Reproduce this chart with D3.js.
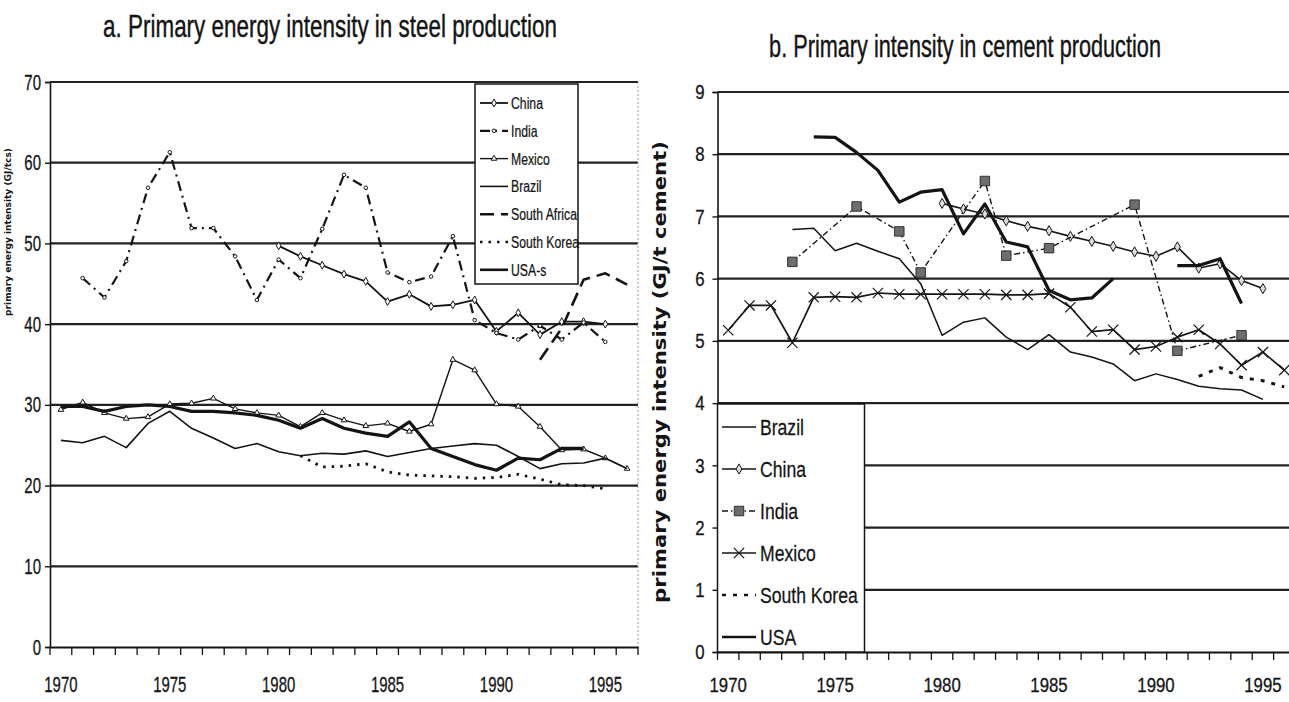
<!DOCTYPE html>
<html>
<head>
<meta charset="utf-8">
<script src="https://cdn.jsdelivr.net/npm/d3@7"></script>
<style>
body { margin: 0; background: #fff; }
svg text { font-family: "Liberation Sans", Arial, sans-serif; fill: #141414; }
</style>
</head>
<body>
<script>
// categories (one per year, 1970..1996)
const years = [1970, 1971, 1972, 1973, 1974, 1975, 1976, 1977, 1978, 1979,
               1980, 1981, 1982, 1983, 1984, 1985, 1986, 1987, 1988, 1989,
               1990, 1991, 1992, 1993, 1994, 1995, 1996];
const yearLabels = [1970, 1975, 1980, 1985, 1990, 1995];
const steelTicks = [0, 10, 20, 30, 40, 50, 60, 70];
const cementTicks = [0, 1, 2, 3, 4, 5, 6, 7, 8, 9];

// a. steel, GJ/tcs (null = no value that year)
const steelChina = [null, null, null, null, null, null, null, null, null, null,
  49.7, 48.4, 47.3, 46.2, 45.3, 42.8, 43.7, 42.2, 42.4, 43.0, 39.1, 41.4, 38.7, 40.3, 40.3, 40.0, null];
const steelIndia = [null, 45.7, 43.3, 47.8, 56.9, 61.3, 51.9, 51.9, 48.4, 43.0,
  48.0, 45.7, 51.8, 58.5, 56.9, 46.4, 45.2, 45.9, 50.9, 40.5, 38.9, 38.1, 39.8, 38.1, 40.2, 37.8, null];
const steelMexico = [29.4, 30.3, 29.0, 28.3, 28.5, 30.1, 30.2, 30.8, 29.5, 29.0,
  28.7, 27.3, 29.0, 28.1, 27.4, 27.7, 26.7, 27.6, 35.6, 34.3, 30.1, 29.8, 27.3, 24.4, 24.5, 23.4, 22.1];
const steelBrazil = [25.6, 25.3, 26.1, 24.7, 27.7, 29.2, 27.1, 25.9, 24.6, 25.2,
  24.2, 23.7, 24.0, 23.9, 24.3, 23.6, 24.1, 24.6, 24.9, 25.2, 25.0, 23.6, 22.1, 22.7, 22.8, 23.4, 22.1];
const steelSouthAfrica = [null, null, null, null, null, null, null, null, null, null,
  null, null, null, null, null, null, null, null, null, null, null, null, 35.6, 39.5, 45.5, 46.3, 44.9];
const steelSouthKorea = [null, null, null, null, null, null, null, null, null, null,
  null, 23.7, 22.3, 22.4, 22.7, 21.7, 21.3, 21.2, 21.1, 20.9, 21.0, 21.4, 20.8, 20.1, 20.0, 19.6, null];
const steelUSA = [29.8, 29.8, 29.2, 29.8, 30.0, 29.8, 29.2, 29.2, 29.0, 28.7,
  28.1, 27.1, 28.3, 27.1, 26.5, 26.1, 27.9, 24.6, 23.6, 22.6, 21.9, 23.4, 23.2, 24.6, 24.6, null, null];

// b. cement, GJ/t cement
const cementBrazil = [null, null, null, 6.79, 6.81, 6.45, 6.57, 6.44, 6.32, 5.92,
  5.09, 5.30, 5.37, 5.06, 4.86, 5.10, 4.82, 4.74, 4.63, 4.36, 4.47, 4.38, 4.27, 4.23, 4.21, 4.06, null];
const cementChina = [null, null, null, null, null, null, null, null, null, null,
  7.21, 7.12, 7.04, 6.93, 6.84, 6.77, 6.68, 6.60, 6.52, 6.43, 6.36, 6.51, 6.17, 6.24, 5.97, 5.84, null];
const cementIndia = [null, null, null, 6.27, null, null, 7.16, null, 6.76, 6.10,
  null, null, 7.57, 6.37, null, 6.49, null, null, null, 7.19, null, 4.84, null, null, 5.09, null, null];
const cementMexico = [5.17, 5.57, 5.57, 4.97, 5.70, 5.71, 5.70, 5.77, 5.75, 5.75,
  5.75, 5.75, 5.75, 5.74, 5.74, 5.76, 5.54, 5.15, 5.18, 4.86, 4.91, 5.06, 5.18, 4.95, 4.61, 4.82, 4.53];
const cementSouthKorea = [null, null, null, null, null, null, null, null, null, null,
  null, null, null, null, null, null, null, null, null, null, null, null, 4.43, 4.57, 4.41, 4.36, 4.26];
const cementUSA = [null, null, null, null, 8.28, 8.27, 8.03, 7.74, 7.23, 7.39,
  7.43, 6.72, 7.20, 6.59, 6.51, 5.81, 5.66, 5.69, 6.00, null, null, 6.21, 6.21, 6.32, 5.60, null, null];

const ink = "#141414";

const svg = d3.select("body").append("svg")
    .attr("width", 1289)
    .attr("height", 702)
    .style("display", "block");

svg.append("rect").attr("width", 1289).attr("height", 702).attr("fill", "#fff");

// squeeze existing text elements horizontally around their anchor (narrow-font look)
function squeeze(sel, sx) {
    sel.each(function() {
        const t = d3.select(this);
        const x0 = +t.attr("x") || 0;
        t.attr("x", 0).attr("transform", "translate(" + x0 + ",0) scale(" + sx + ",1)");
    });
}

// fit one text to a given width (titles, axis labels)
function fitText(g, x, y, rot, str, size, width, weight, family) {
    const t = g.append("text")
        .attr("text-anchor", "middle")
        .attr("font-size", size)
        .attr("font-weight", weight || "normal")
        .text(str);
    if (family) t.style("font-family", family);
    const sx = width / t.node().getComputedTextLength();
    t.attr("transform", "translate(" + x + "," + y + ") rotate(" + rot + ") scale(" + sx + ",1)");
    return t;
}

function markerPath(type, size) {
    const t = {
        diamond: d3.symbolDiamond,
        square: d3.symbolSquare,
        triangle: d3.symbolTriangle,
        circle: d3.symbolCircle,
        x: d3.symbolTimes || d3.symbolX
    }[type];
    return d3.symbol().type(t).size(size)();
}

function drawMarker(g, s, cx, cy) {
    g.append("path")
        .attr("d", markerPath(s.marker, s.msize))
        .attr("transform", "translate(" + cx + "," + cy + ")")
        .attr("fill", s.mfill || "none")
        .attr("stroke", ink)
        .attr("stroke-width", s.mstroke || 1);
}

function drawPanel(p) {
    const g = svg.append("g");
    const x = d3.scaleBand().domain(years).range([p.left, p.right]).padding(0);
    const y = d3.scaleLinear().domain([0, p.ticks[p.ticks.length - 1]]).range([p.bottom, p.top]);
    const cx = d => x(d) + x.bandwidth() / 2;

    // gridlines
    g.selectAll(".grid")
        .data(p.ticks.filter(t => t > 0))
        .enter().append("line")
        .attr("x1", p.left).attr("x2", Math.min(p.right, 1289))
        .attr("y1", d => y(d)).attr("y2", d => y(d))
        .attr("stroke", "#222")
        .attr("stroke-width", 2.2);

    if (p.rightBorder) {
        g.append("line")
            .attr("x1", p.right).attr("x2", p.right)
            .attr("y1", p.top).attr("y2", p.bottom)
            .attr("stroke", "#999").attr("stroke-width", 1)
            .attr("stroke-dasharray", "2,2");
    }

    // y axis
    const ya = g.append("g")
        .attr("transform", "translate(" + p.left + ",0)")
        .call(d3.axisLeft(y).tickValues(p.ticks).tickSize(5).tickPadding(p.yPad).tickFormat(d3.format("d")));
    ya.select(".domain").attr("stroke", ink).attr("stroke-width", 1.6);
    ya.selectAll(".tick line").attr("stroke", ink).attr("stroke-width", 1.4);
    ya.selectAll("text").attr("font-size", p.tickFont).attr("font-family", null)
        .attr("fill", ink).attr("stroke", ink).attr("stroke-width", 0.3);
    squeeze(ya.selectAll("text"), p.tickSx);

    // x axis: labels at category centres, ticks at boundaries
    const xa = g.append("g")
        .attr("transform", "translate(0," + p.bottom + ")")
        .call(d3.axisBottom(x).tickValues(yearLabels).tickSize(0).tickPadding(p.xPad));
    xa.select(".domain").attr("stroke", ink).attr("stroke-width", 2.2);
    xa.selectAll("text").attr("font-size", p.tickFont).attr("font-family", null)
        .attr("fill", ink).attr("stroke", ink).attr("stroke-width", 0.3);
    squeeze(xa.selectAll("text"), p.tickSx);
    g.selectAll(".xtick")
        .data(years.concat([null]))
        .enter().append("line")
        .attr("x1", (d, i) => p.left + i * x.step())
        .attr("x2", (d, i) => p.left + i * x.step())
        .attr("y1", p.bottom).attr("y2", p.bottom + 8)
        .attr("stroke", ink).attr("stroke-width", 1.3);

    // series
    p.series.forEach(s => {
        const pts = years.map((yr, i) => ({ yr: yr, v: s.values[i] }));
        const line = d3.line().x(d => cx(d.yr)).y(d => y(d.v));
        let data = pts.filter(d => d.v !== null);
        if (s.breaks) {
            data = pts;
            line.defined(d => d.v !== null);
        }
        g.append("path")
            .datum(data)
            .attr("fill", "none")
            .attr("stroke", ink)
            .attr("stroke-width", s.width)
            .attr("stroke-dasharray", s.dash)
            .attr("stroke-linecap", s.cap || "butt")
            .attr("stroke-linejoin", "round")
            .attr("d", line);
        if (s.marker) {
            pts.filter(d => d.v !== null).forEach(d => drawMarker(g, s, cx(d.yr), y(d.v)));
        }
    });

    // legend
    const L = p.legend;
    g.append("rect")
        .attr("x", L.x).attr("y", L.y).attr("width", L.w).attr("height", L.h)
        .attr("fill", "#fff").attr("stroke", ink).attr("stroke-width", 1.5);
    p.series.forEach((s, i) => {
        const ly = L.row0 + i * L.step;
        g.append("line")
            .attr("x1", L.sx0).attr("x2", L.sx1)
            .attr("y1", ly).attr("y2", ly)
            .attr("stroke", ink)
            .attr("stroke-width", Math.min(s.width, 2.6))
            .attr("stroke-dasharray", s.dash)
            .attr("stroke-linecap", s.cap || "butt");
        if (s.marker) drawMarker(g, s, (L.sx0 + L.sx1) / 2, ly);
        g.append("text")
            .attr("transform", "translate(" + L.tx + "," + ly + ") scale(" + L.sx + ",1)")
            .attr("dy", "0.35em")
            .attr("font-size", L.font)
            .attr("stroke", ink).attr("stroke-width", 0.25)
            .text(s.name);
    });

    // title and y-axis label
    fitText(g, p.titleX, p.titleY, 0, p.title, p.titleFont, p.titleLen)
        .attr("stroke", ink).attr("stroke-width", 0.4);
    fitText(g, p.ylabX, p.ylabY, -90, p.ylab, p.ylabFont, p.ylabLen, "bold", "'DejaVu Sans', Verdana, sans-serif")
        .attr("fill", "#2a2a2a");
}

drawPanel({
    left: 50, right: 638, top: 82, bottom: 647,
    ticks: steelTicks, tickFont: 22, tickSx: 0.68, yPad: 4, xPad: 29, rightBorder: true,
    title: "a. Primary energy intensity in steel production",
    titleX: 330, titleY: 37, titleFont: 31, titleLen: 454,
    ylab: "primary energy intensity (GJ/tcs)",
    ylabX: 11, ylabY: 232, ylabFont: 8, ylabLen: 168,
    legend: { x: 475, y: 84, w: 103, h: 200, row0: 103, step: 27.8, sx0: 480, sx1: 508, tx: 511, font: 17, sx: 0.72 },
    series: [
        { name: "China", values: steelChina, width: 1.8, marker: "diamond", msize: 18, mfill: "#fff" },
        { name: "India", values: steelIndia, width: 2.2, dash: "10,5,2,5", marker: "circle", msize: 10, mfill: "#fff" },
        { name: "Mexico", values: steelMexico, width: 1.4, marker: "triangle", msize: 14, mfill: "#fff" },
        { name: "Brazil", values: steelBrazil, width: 1.6 },
        { name: "South Africa", values: steelSouthAfrica, width: 2.6, dash: "14,7" },
        { name: "South Korea", values: steelSouthKorea, width: 2.8, dash: "2.5,6" },
        { name: "USA-s", values: steelUSA, width: 3.2 }
    ]
});

drawPanel({
    left: 717.5, right: 1295, top: 92, bottom: 652,
    ticks: cementTicks, tickFont: 21, tickSx: 0.8, yPad: 8, xPad: 25, rightBorder: false,
    title: "b. Primary intensity in cement production",
    titleX: 965, titleY: 57, titleFont: 31, titleLen: 392,
    ylab: "primary energy intensity (GJ/t cement)",
    ylabX: 666, ylabY: 372, ylabFont: 17, ylabLen: 462,
    legend: { x: 717.5, y: 404, w: 147, h: 248, row0: 427, step: 42, sx0: 722, sx1: 756, tx: 760, font: 22, sx: 0.8 },
    series: [
        { name: "Brazil", values: cementBrazil, width: 1.5 },
        { name: "China", values: cementChina, width: 1.6, marker: "diamond", msize: 30, mfill: "#ddd" },
        { name: "India", values: cementIndia, width: 1.4, dash: "6,3,1.5,3", marker: "square", msize: 90, mfill: "#6e6e6e", mstroke: 0.8 },
        { name: "Mexico", values: cementMexico, width: 1.7, marker: "x", msize: 70, mstroke: 1.2 },
        { name: "South Korea", values: cementSouthKorea, width: 3, dash: "4,7" },
        { name: "USA", values: cementUSA, width: 3.2, breaks: true }
    ]
});
</script>
</body>
</html>
